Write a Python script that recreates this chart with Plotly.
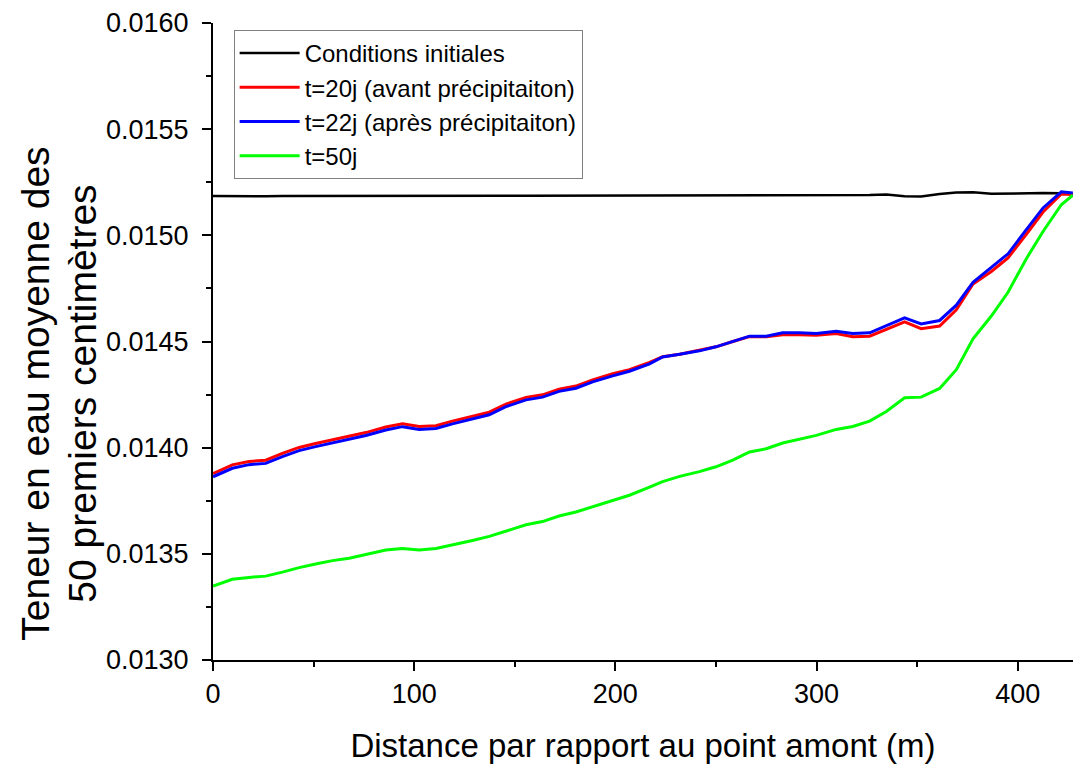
import plotly.graph_objects as go

distance = [0, 9.6, 17.9, 26.2, 34.5, 42.8, 51, 59.4, 67.7, 76, 85.9, 94.2, 102.5, 110.8,
            119, 129, 137.3, 145.6, 155.6, 163.8, 172, 180.4, 188.7, 198.7, 207, 217,
            223.5, 232, 241.8, 250, 258.4, 266.7, 275, 283.2, 291.5, 299.9, 309.8, 318,
            326.4, 334.7, 343.8, 352, 361.2, 369.5, 377.8, 386.9, 395.2, 404.3, 412.6,
            421.7, 427.4]

init = [0.015185, 0.015184, 0.015184, 0.015184, 0.015185, 0.015185, 0.015186, 0.015186,
        0.015186, 0.015186, 0.015185, 0.015184, 0.015183, 0.015184, 0.015185, 0.015185,
        0.015186, 0.015186, 0.015187, 0.015187, 0.015187, 0.015187, 0.015188, 0.015188,
        0.015188, 0.015189, 0.015189, 0.015189, 0.015190, 0.015189, 0.015188, 0.015188,
        0.015188, 0.015187, 0.015187, 0.015187, 0.015188, 0.015188, 0.015190, 0.015192,
        0.015184, 0.015183, 0.015195, 0.015202, 0.015203, 0.015196, 0.015197, 0.015200,
        0.015199, 0.015198, 0.015192]

t20 = [0.013878, 0.013919, 0.013935, 0.013941, 0.013973, 0.014001, 0.014020, 0.014037,
       0.014052, 0.014071, 0.014097, 0.014113, 0.014100, 0.014103, 0.014125, 0.014148,
       0.014167, 0.014205, 0.014237, 0.014249, 0.014275, 0.014290, 0.014319, 0.014348,
       0.014367, 0.014402, 0.014428, 0.014440, 0.014458, 0.014475, 0.014500, 0.014523,
       0.014522, 0.014532, 0.014532, 0.014530, 0.014538, 0.014522, 0.014525, 0.014556,
       0.014592, 0.014560, 0.014573, 0.014649, 0.014771, 0.014830, 0.014894, 0.015005,
       0.015110, 0.015195, 0.015193]

t22 = [0.013863, 0.013903, 0.013920, 0.013926, 0.013958, 0.013986, 0.014005, 0.014022,
       0.014037, 0.014057, 0.014083, 0.014099, 0.014086, 0.014090, 0.014112, 0.014135,
       0.014155, 0.014193, 0.014225, 0.014238, 0.014265, 0.014280, 0.014310, 0.014338,
       0.014360, 0.014395, 0.014427, 0.014440, 0.014456, 0.014475, 0.014500, 0.014525,
       0.014525, 0.014541, 0.014541, 0.014538, 0.014548, 0.014538, 0.014541, 0.014576,
       0.014611, 0.014583, 0.014599, 0.014671, 0.014779, 0.014849, 0.014913, 0.015027,
       0.015129, 0.015205, 0.015199]

t50 = [0.013348, 0.013380, 0.013389, 0.013395, 0.013414, 0.013435, 0.013452, 0.013468,
       0.013479, 0.013497, 0.013518, 0.013525, 0.013518, 0.013525, 0.013541, 0.013563,
       0.013582, 0.013608, 0.013637, 0.013652, 0.013678, 0.013697, 0.013722, 0.013754,
       0.013776, 0.013814, 0.013840, 0.013865, 0.013887, 0.013910, 0.013941, 0.013980,
       0.013995, 0.014022, 0.014040, 0.014058, 0.014086, 0.014100, 0.014125, 0.014170,
       0.014235, 0.014238, 0.014279, 0.014367, 0.014513, 0.014620, 0.014732, 0.014890,
       0.015018, 0.015144, 0.015189]

series_names = ["Conditions initiales", "t=20j (avant précipitaiton)",
                "t=22j (après précipitaiton)", "t=50j"]
series_values = [init, t20, t22, t50]
series_colors = ["#000000", "#FF0000", "#0000FF", "#00FF00"]
series_widths = [2.5, 3, 3, 3]

x_ticks = [0, 100, 200, 300, 400]
y_ticks = [0.0130, 0.0135, 0.0140, 0.0145, 0.0150, 0.0155, 0.0160]
y_title_lines = ["Teneur en eau moyenne des", "50 premiers centimètres"]
x_title = "Distance par rapport au point amont (m)"

FONT = "Liberation Sans, Arial, sans-serif"

fig = go.Figure()
for name, vals, col, w in zip(series_names, series_values, series_colors, series_widths):
    fig.add_trace(go.Scatter(x=distance, y=vals, mode="lines", name=name,
                             line=dict(color=col, width=w)))

fig.update_layout(
    width=1073, height=764,
    margin=dict(l=213, r=0, t=23, b=104),
    paper_bgcolor="white", plot_bgcolor="white",
    font=dict(family=FONT, color="black"),
    showlegend=True,
    legend=dict(x=0.024, y=0.989, xanchor="left", yanchor="top",
                bordercolor="#808080", borderwidth=1, bgcolor="white",
                font=dict(size=24, family=FONT), tracegroupgap=0,
                itemwidth=60),
)

for txt, shift in zip(y_title_lines, [-177, -130]):
    fig.add_annotation(text=txt, xref="paper", yref="paper", x=0, y=0.418,
                       xanchor="center", yanchor="middle", xshift=shift,
                       textangle=-90, showarrow=False,
                       font=dict(size=39, family=FONT, color="black"))

fig.update_xaxes(
    range=[0, 427.5], tickvals=x_ticks, ticktext=[str(v) for v in x_ticks],
    showline=True, linecolor="black", linewidth=2, mirror=False,
    ticks="outside", ticklen=9, tickwidth=2, tickcolor="black",
    tickfont=dict(size=27, family=FONT),
    minor=dict(dtick=50, ticks="outside", ticklen=5, tickwidth=2, tickcolor="black"),
    showgrid=False, zeroline=False,
    title=dict(text=x_title, font=dict(size=33, family=FONT), standoff=31),
)
fig.update_yaxes(
    range=[0.0130, 0.0160], tickvals=y_ticks, ticktext=[f"{v:.4f}" for v in y_ticks],
    showline=True, linecolor="black", linewidth=2, mirror=False,
    ticks="outside", ticklen=9, tickwidth=2, tickcolor="black",
    tickfont=dict(size=27, family=FONT), ticklabelstandoff=8,
    minor=dict(dtick=0.00025, ticks="outside", ticklen=5, tickwidth=2, tickcolor="black"),
    showgrid=False, zeroline=False,
)

fig.write_html("out.html", config={"displayModeBar": False},
               post_script="document.body.style.margin='0';document.body.style.overflow='hidden';")
